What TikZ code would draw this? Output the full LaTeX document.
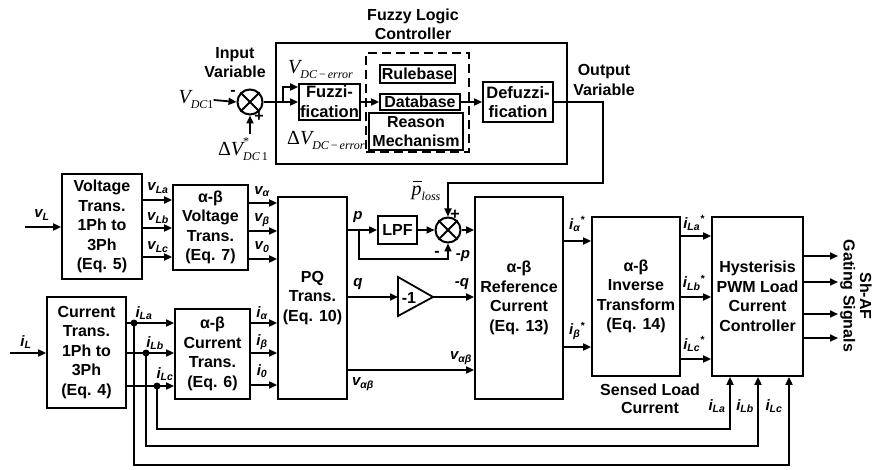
\documentclass[tikz,border=0pt]{standalone}
\usepackage{fontspec}
\setmainfont{Liberation Sans}
\newfontfamily\tms{Liberation Serif}
\usetikzlibrary{arrows.meta}
\newcommand\tV{{\tms\itshape\fontsize{20}{20}\selectfont V}}
\newcommand\tD{{\tms\fontsize{20}{20}\selectfont Δ}}
\newcommand\tsub[1]{\raisebox{-5pt}{\tms\itshape\fontsize{12}{12}\selectfont #1}}
\begin{document}
\begin{tikzpicture}[x=1pt,y=-1pt,
  blk/.style={draw, line width=1.8pt, inner sep=0pt, align=center, font=\bfseries\fontsize{16}{19.5}\selectfont},
  conn/.style={line width=1.8pt, -{Triangle[length=8pt,width=7pt]}},
  ln/.style={line width=1.8pt},
  sig/.style={font=\bfseries\itshape\fontsize{15}{18}\selectfont, inner sep=0pt},
  ttl/.style={font=\bfseries\fontsize{16}{19}\selectfont, align=center, inner sep=0pt},
  sgn/.style={font=\bfseries\fontsize{16}{16}\selectfont, inner sep=0pt},
  summ/.style={circle, draw, line width=2pt, minimum size=25pt, inner sep=0pt},
  dot/.style={circle, fill, inner sep=0pt, minimum size=7pt},
  mth/.style={inner sep=0pt}
]
\useasboundingbox (0,0) rectangle (875,470);

% ---------- Fuzzy logic controller ----------
\node[ttl] (flct) at (413,24) {Fuzzy Logic\\Controller};
\node[blk, minimum width=291pt, minimum height=121pt] (flc) at (421.5,103.5) {};
\node[draw, line width=1.6pt, dash pattern=on 9pt off 5pt, minimum width=103pt, minimum height=99pt, inner sep=0pt] (dsh) at (417.5,102.5) {};
\node[blk, minimum width=61pt, minimum height=36pt, font=\bfseries\fontsize{16.5}{20}\selectfont] (fuzz) at (329.5,102) {Fuzzi-\\fication};
\node[blk, minimum width=75pt, minimum height=18pt] (rule) at (417.5,74) {Rulebase};
\node[blk, minimum width=80pt, minimum height=16pt] (db) at (420,102) {Database};
\node[blk, minimum width=94pt, minimum height=37pt, font=\bfseries\fontsize{16}{18.5}\selectfont] (rsn) at (416,131.5) {Reason\\Mechanism};
\node[blk, minimum width=70pt, minimum height=40pt, font=\bfseries\fontsize{16.5}{19}\selectfont] (dfz) at (518,102) {Defuzzi-\\fication};
\node[mth, anchor=west] (verr) at (288,70) {\tV\tsub{DC\,{\upshape −}\,error}};
\node[mth, anchor=west] (dverr) at (287,140) {\tD\tV\tsub{DC\,{\upshape −}\,error}};

\node[ttl] (inv) at (235,63) {Input\\Variable};
\node[ttl, font=\bfseries\fontsize{16}{20}\selectfont] (outv) at (604,80) {Output\\Variable};

\node[summ] (s1) at (250,102) {};
\draw[ln] (s1.north west) -- (s1.south east) (s1.north east) -- (s1.south west);
\node[mth] (vdc) at (196,100) {\tV\tsub{DC\upshape 1}};
\node[mth] (dvs) at (243,149) {\tD\tV\rlap{\raisebox{10pt}{\tms\fontsize{12}{12}\selectfont *}}\tsub{DC\upshape\,1}};
\node[sgn] (m1) at (233,93) {-};
\node[sgn] (p1) at (259,117) {+};
\coordinate (dvtop) at (250,134);
\coordinate (br1) at (283,102);
\coordinate (o1) at (603,102);
\coordinate (o2) at (603,183);

\draw[conn] (vdc.east) -- (s1.west);
\draw[conn] (dvtop) -- (s1.south);
\draw[conn] (s1.east) -- (fuzz.west);
\draw[conn] (br1) |- ([yshift=15pt]fuzz.west);
\draw[conn] (fuzz.east) -- (db.west);
\draw[conn] (db.east) -- (dfz.west);

% ---------- Voltage path ----------
\node[blk, minimum width=80pt, minimum height=105pt] (vt) at (102,226.5) {Voltage\\Trans.\\1Ph to\\3Ph\\(Eq. 5)};
\node[blk, minimum width=75pt, minimum height=85pt] (abv) at (210.5,227.5) {α-β\\Voltage\\Trans.\\(Eq. 7)};
\node[blk, minimum width=69pt, minimum height=202pt] (pq) at (312.5,298) {PQ\\Trans.\\(Eq. 10)};

\coordinate (vLin) at (25,227);
\draw[conn] (vLin) -- (vLin -| vt.west);
\node[sig] at (42,215) {v\textsubscript{L}};
\foreach \yy/\nm in {200/La,228/Lb,257/Lc}{
  \coordinate (c\nm) at (0,\yy);
  \draw[conn] (vt.east |- c\nm) -- (abv.west |- c\nm);
}
\node[sig] at (158,188) {v\textsubscript{La}};
\node[sig] at (158,218) {v\textsubscript{Lb}};
\node[sig] at (158,247) {v\textsubscript{Lc}};
\foreach \yy/\nm in {203/va,231/vb,259/vz}{
  \coordinate (c\nm) at (0,\yy);
  \draw[conn] (abv.east |- c\nm) -- (pq.west |- c\nm);
}
\node[sig] at (262,192) {v\textsubscript{α}};
\node[sig] at (262,220) {v\textsubscript{β}};
\node[sig] at (262,247) {v\textsubscript{0}};

% ---------- Current path ----------
\node[blk, minimum width=79pt, minimum height=111pt] (ct) at (86.5,352.5) {Current\\Trans.\\1Ph to\\3Ph\\(Eq. 4)};
\node[blk, minimum width=75pt, minimum height=90pt] (abc) at (212.5,354) {α-β\\Current\\Trans.\\(Eq. 6)};
\coordinate (iLin) at (10,353);
\draw[conn] (iLin) -- (iLin -| ct.west);
\node[sig] at (26,342) {i\textsubscript{L}};
\foreach \yy/\nm in {323/ia,353/ib,386/ic}{
  \coordinate (c\nm) at (0,\yy);
  \draw[conn] (ct.east |- c\nm) -- (abc.west |- c\nm);
}
\node[dot] (da) at (134,323) {};
\node[dot] (dbb) at (146,353) {};
\node[dot] (dc) at (157,386) {};
\node[sig] at (144,313) {i\textsubscript{La}};
\node[sig] at (155,343) {i\textsubscript{Lb}};
\node[sig] at (165,374) {i\textsubscript{Lc}};
\foreach \yy/\nm in {323/oa,353/ob,385/oz}{
  \coordinate (c\nm) at (0,\yy);
  \draw[conn] (abc.east |- c\nm) -- (pq.west |- c\nm);
}
\node[sig] at (262,313) {i\textsubscript{α}};
\node[sig] at (262,342) {i\textsubscript{β}};
\node[sig] at (262,371) {i\textsubscript{0}};

% ---------- PQ outputs ----------
\node[blk, minimum width=39pt, minimum height=28pt] (lpf) at (397.5,230) {LPF};
\node[summ] (s2) at (448,230) {};
\draw[ln] (s2.north west) -- (s2.south east) (s2.north east) -- (s2.south west);
\node[blk, minimum width=88pt, minimum height=202pt] (ref) at (519,298) {α-β\\Reference\\Current\\(Eq. 13)};

\draw[conn] (pq.east |- lpf.west) -- (lpf.west);
\draw[conn] (lpf.east) -- (s2.west);
\draw[conn] (s2.east) -- (s2.east -| ref.west);
\coordinate (pb) at (359,230);
\coordinate (pc) at (448,259);
\draw[conn] (pb) |- (pc) -- (s2.south);
\draw[conn] (dfz.east) -- (o1) |- (s2.north |- o2) -- (s2.north);

\node[sig] at (358,217) {p};
\node[sgn] at (455,215) {+};
\node[sgn] at (437,254) {-};
\node[sig] at (463,256) {-p};
\node[mth] (ploss) at (426,191) {{\tms\itshape\fontsize{20}{20}\selectfont\rlap{\kern1.5pt\rule[13.5pt]{9pt}{0.9pt}}p}\tsub{loss}};

\coordinate (gt) at (398,277);
\coordinate (gb) at (398,316);
\coordinate (gl) at (398,297);
\coordinate (ga) at (433,297);
\draw[ln, line join=miter] (gt) -- (ga) -- (gb) -- cycle;
\node[sgn] at (409,298) {-1};
\draw[conn] (pq.east |- gl) -- (gl);
\draw[conn] (ga) -- (ga -| ref.west);
\node[sig] at (358,284) {q};
\node[sig] at (462,284) {-q};

\coordinate (cvab) at (0,370);
\draw[conn] (pq.east |- cvab) -- (ref.west |- cvab);
\node[sig] at (461,358) {v\textsubscript{αβ}};
\node[sig] at (363,384) {v\textsubscript{αβ}};

% ---------- Inverse and hysteresis ----------
\node[blk, minimum width=88pt, minimum height=159pt] (itr) at (636,296.5) {α-β\\Inverse\\Transform\\(Eq. 14)};
\node[blk, minimum width=91pt, minimum height=159pt] (hys) at (757.5,296.5) {Hysterisis\\PWM Load\\Current\\Controller};

\foreach \yy/\nm in {241/ra,347/rb}{
  \coordinate (c\nm) at (0,\yy);
  \draw[conn] (ref.east |- c\nm) -- (itr.west |- c\nm);
}
\node[sig] at (577,224) {i\textsubscript{α}\textsuperscript{*}};
\node[sig] at (577,331) {i\textsubscript{β}\textsuperscript{*}};

\foreach \yy/\nm in {236/ha,297/hb,359/hc}{
  \coordinate (c\nm) at (0,\yy);
  \draw[conn] (itr.east |- c\nm) -- (hys.west |- c\nm);
}
\node[sig] at (694,223) {i\textsubscript{La}\textsuperscript{*}};
\node[sig] at (694,283) {i\textsubscript{Lb}\textsuperscript{*}};
\node[sig] at (694,344) {i\textsubscript{Lc}\textsuperscript{*}};

\foreach \yy/\nm in {256/g1,282/g2,314/g3,338/g4}{
  \coordinate (\nm) at (838,\yy);
  \draw[conn] (hys.east |- \nm) -- (\nm);
}
\node[ttl, rotate=-90, font=\bfseries\fontsize{16}{16.5}\selectfont] (gs) at (856,296) {Sh-AF\\Gating Signals};

\node[ttl, font=\bfseries\fontsize{16}{18.5}\selectfont] (sens) at (650,399) {Sensed Load\\Current};

% ---------- Feedback ----------
\coordinate (fa) at (730,429);
\coordinate (fb) at (758,446);
\coordinate (fc) at (789,465);
\draw[conn] (dc.center) |- (fa) -- (fa |- hys.south);
\draw[conn] (dbb.center) |- (fb) -- (fb |- hys.south);
\draw[conn] (da.center) |- (fc) -- (fc |- hys.south);
\node[sig] at (717,406) {i\textsubscript{La}};
\node[sig] at (745,406) {i\textsubscript{Lb}};
\node[sig] at (774,406) {i\textsubscript{Lc}};
\end{tikzpicture}
\end{document}
